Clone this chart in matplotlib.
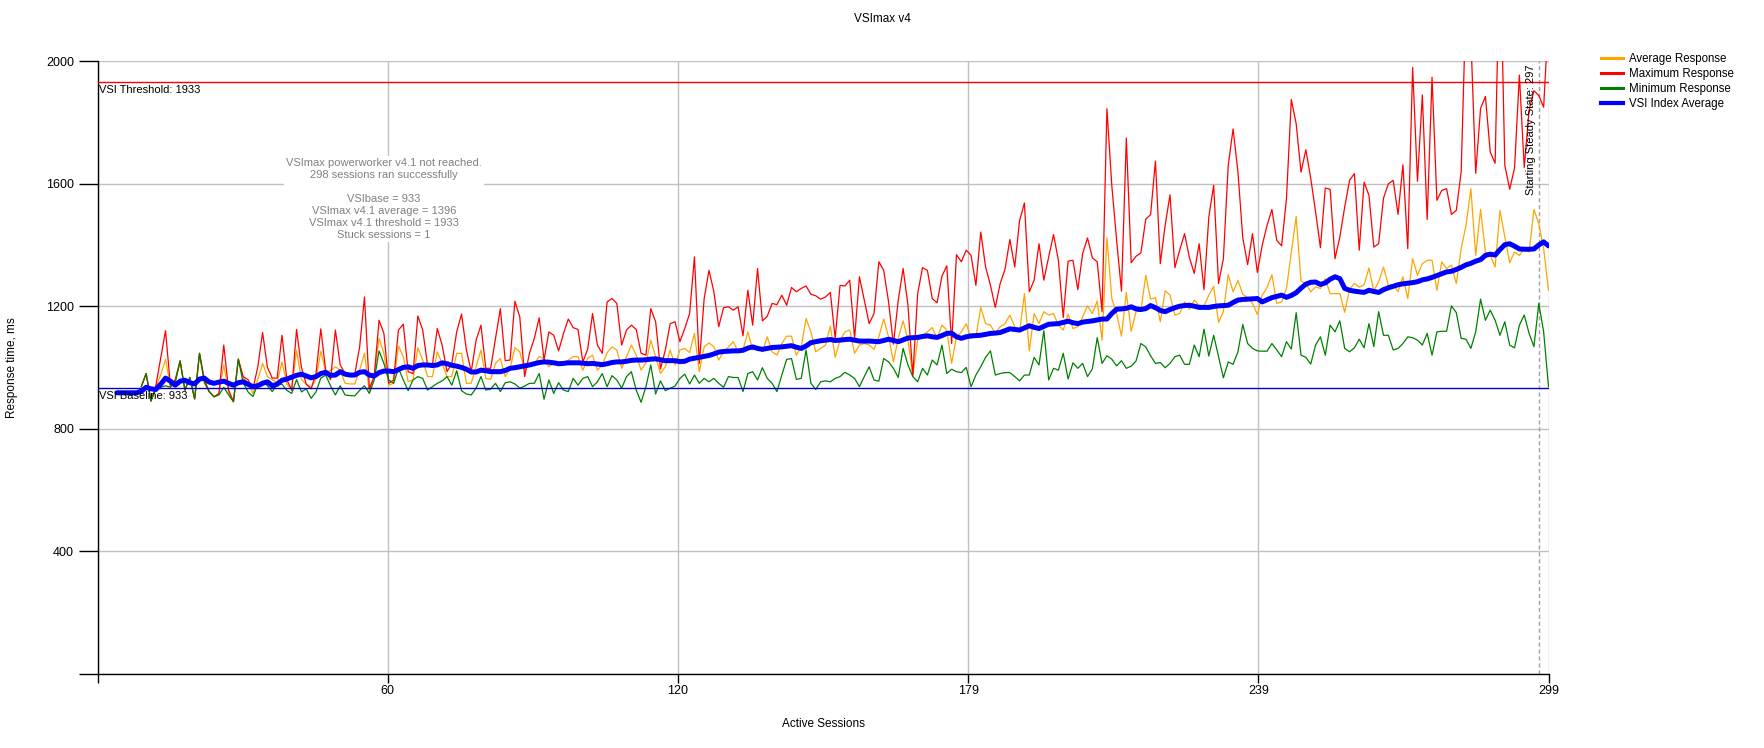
import numpy as np
import matplotlib
matplotlib.use("Agg")
import matplotlib.pyplot as plt
from matplotlib.lines import Line2D

plt.rcParams['font.family'] = ['Liberation Sans', 'DejaVu Sans']

# ---------------- data ----------------
first_session_resp = 9      # first session with min/avg/max values
first_session_vsi = 4       # first session with VSI index average

max_response = [
    937, 980, 890, 940, 1030, 1120, 940, 960, 1021, 926, 967, 897, 1046, 960, 921, 904, 915, 1073, 926, 888,
    1027, 970, 960, 930, 1000, 1114, 1000, 965, 965, 1105, 960, 925, 1124, 1000, 945, 930, 980, 1126, 990, 960, 1122,
    1008, 980, 978, 978, 1067, 1230, 931, 970, 1154, 1111, 948, 959, 1122, 1141, 986, 980, 1168, 1122, 1008, 1008,
    1127, 1073, 986, 1013, 1116, 1174, 1057, 986, 1089, 1138, 997, 997, 1095, 1192, 1022, 1024, 1216, 1165, 970, 1046,
    1095, 1162, 1024, 1116, 1105, 1054, 1110, 1158, 1130, 1124, 1018, 1060,
    1176, 1073, 1046, 1214, 1225, 1209, 1073, 1122, 1138, 1124, 1046, 1040, 1192, 1149, 995, 1057, 1143, 1149, 1084, 1127,
    1176, 1361, 1013, 1225, 1317, 1247, 1133, 1195, 1198, 1187, 1198, 1103, 1252, 1138, 1323, 1152, 1167, 1209, 1205, 1236,
    1203, 1261, 1247, 1258, 1266, 1239, 1234, 1223, 1230, 1245,
    1095, 1268, 1266, 1285, 1095, 1296, 1220, 1143, 1176, 1345, 1317, 1214, 1076, 1220, 1323, 1203, 972, 1241, 1326, 1317,
    1225, 1211, 1298, 1332, 1078, 1368, 1345, 1383, 1366, 1268, 1442, 1328, 1268, 1196, 1274, 1321, 1418, 1328, 1480, 1537,
    1247, 1285, 1404, 1285, 1361, 1434, 1350, 1163, 1347, 1350, 1254,
    1372, 1423, 1358, 1345, 1182, 1845, 1595, 1415, 1249, 1749, 1342, 1363, 1374, 1484, 1499, 1674, 1339, 1464, 1564, 1326,
    1383, 1437, 1359, 1307, 1404, 1254, 1491, 1595, 1274, 1355, 1660, 1779, 1638, 1423, 1336, 1437, 1310, 1399, 1464, 1516,
    1415, 1397, 1551, 1875, 1796, 1638, 1711, 1618, 1508, 1391, 1586,
    1582, 1355, 1426, 1524, 1611, 1633, 1383, 1605, 1562, 1393, 1404, 1553, 1600, 1611, 1500, 1662, 1388, 1980, 1608, 1890,
    1483, 1948, 1546, 1578, 1584, 1500, 1513, 1638, 2200, 2080, 1634, 1846, 1885, 1703, 1667, 2400, 1660, 1582, 1651, 1955,
    1653, 1840, 1904, 1888, 1850, 2150,
]

avg_response = [
    937, 980, 890, 935, 975, 1026, 937, 955, 1021, 926, 967, 897, 1046, 955, 921, 904, 912, 1008, 918, 888,
    1027, 965, 950, 915, 960, 1013, 970, 960, 950, 1018, 945, 930, 1056, 960, 945, 935, 960, 1053, 985, 990, 1002,
    991, 948, 946, 946, 991, 1046, 921, 975, 1095, 1046, 942, 948, 1070, 1035, 953, 959, 1064, 1024, 970, 970,
    1051, 1013, 970, 970, 1046, 1046, 948, 948, 1002, 1057, 964, 961, 1013, 1029, 970, 997, 1065, 1051, 991, 1008,
    1013, 1035, 1029, 1002, 1013, 1008, 1015, 1024, 1035, 1035, 991, 1030,
    1040, 991, 1008, 1048, 1067, 1057, 997, 1035, 1073, 1040, 991, 1015, 1089, 1035, 980, 1002, 1057, 1008, 1057, 1062,
    1048, 1111, 986, 1067, 1080, 1067, 1024, 1051, 1067, 1084, 1051, 1057, 1116, 1057, 1067, 1051, 1100, 1051, 1040, 1078,
    1102, 1102, 1040, 1067, 1160, 1116, 1051, 1062, 1073, 1135,
    1033, 1089, 1116, 1122, 1046, 1073, 1078, 1073, 1059, 1100, 1158, 1100, 1018, 1095, 1152, 1089, 975, 1089, 1105, 1116,
    1130, 1095, 1138, 1122, 1013, 1100, 1116, 1143, 1095, 1100, 1196, 1143, 1138, 1111, 1133, 1143, 1171, 1133, 1116, 1241,
    1054, 1176, 1143, 1182, 1171, 1176, 1138, 1122, 1174, 1127, 1133,
    1165, 1201, 1176, 1217, 1089, 1424, 1225, 1176, 1102, 1245, 1118, 1182, 1184, 1301, 1223, 1228, 1149, 1250, 1236, 1171,
    1176, 1214, 1190, 1220, 1203, 1201, 1236, 1265, 1147, 1182, 1303, 1247, 1284, 1239, 1228, 1209, 1173, 1236, 1261, 1303,
    1209, 1214, 1258, 1375, 1493, 1282, 1274, 1247, 1263, 1258, 1290,
    1241, 1241, 1241, 1180, 1255, 1275, 1262, 1270, 1325, 1250, 1280, 1328, 1268, 1270, 1247, 1296, 1225, 1355, 1301, 1339,
    1350, 1350, 1252, 1345, 1323, 1334, 1274, 1388, 1464, 1584, 1366, 1516, 1377, 1366, 1328, 1513, 1426, 1342, 1377, 1366,
    1388, 1377, 1516, 1470, 1388, 1252,
]

min_response = [
    937, 980, 890, 930, 935, 940, 935, 950, 1021, 926, 967, 897, 1046, 950, 921, 904, 910, 935, 910, 888,
    1027, 950, 920, 905, 945, 955, 940, 921, 945, 945, 925, 915, 960, 920, 930, 899, 920, 965, 975, 940, 910,
    940, 910, 908, 907, 925, 940, 915, 959, 1054, 1013, 959, 948, 997, 959, 924, 959, 970, 964, 926, 937,
    948, 956, 970, 942, 989, 924, 913, 910, 932, 970, 926, 929, 948, 921, 950, 953, 946, 932, 939, 948,
    948, 980, 896, 959, 915, 950, 926, 921, 964, 942, 964, 970,
    937, 953, 980, 937, 973, 959, 932, 970, 986, 926, 886, 937, 1008, 913, 956, 924, 932, 939, 964, 978,
    946, 975, 948, 964, 953, 964, 948, 935, 970, 967, 967, 921, 980, 986, 959, 999, 964, 948, 921, 975,
    1026, 1029, 961, 964, 1057, 948, 928, 953, 956, 953,
    964, 970, 984, 975, 964, 937, 970, 1002, 959, 955, 1029, 1018, 997, 967, 1062, 1008, 970, 953, 997, 975,
    1024, 1008, 1073, 980, 994, 986, 983, 1000, 937, 975, 1002, 1033, 1054, 975, 980, 983, 983, 970, 956, 975,
    975, 1033, 1008, 1120, 959, 997, 991, 1046, 962, 1015, 997,
    1013, 970, 995, 1097, 1013, 1038, 1027, 1005, 1022, 997, 1004, 1021, 1078, 1067, 1038, 1013, 1016, 999, 1013, 1035,
    1040, 1010, 1010, 1073, 1035, 1125, 1037, 1105, 1035, 966, 1018, 1010, 1051, 1140, 1078, 1062, 1054, 1053, 1053, 1078,
    1057, 1035, 1084, 1060, 1179, 1040, 1033, 1011, 1073, 1100, 1040,
    1138, 1116, 1152, 1062, 1051, 1064, 1092, 1064, 1143, 1068, 1182, 1105, 1105, 1057, 1062, 1078, 1100, 1097, 1089, 1073,
    1111, 1040, 1116, 1118, 1118, 1201, 1179, 1095, 1092, 1062, 1116, 1223, 1154, 1187, 1154, 1105, 1149, 1073, 1064, 1138,
    1171, 1111, 1068, 1209, 1116, 937,
]

vsi_index_avg = [
    917, 917, 917, 917, 917, 922, 935, 930, 928, 945, 965, 955, 942, 955, 958, 950, 946, 962, 965, 952,
    948, 952, 955, 948, 942, 950, 953, 945, 937, 940, 948, 953, 940, 945, 958, 962, 968, 974, 978, 972,
    966, 970, 980, 984, 974, 975,
    986, 978, 975, 975, 984, 986, 975, 972, 983, 988, 988, 986, 993, 1000, 1002, 997, 1006, 1008, 1008, 1006,
    1008, 1015, 1012, 1007, 1004, 1000, 994, 985, 985, 991, 989, 986, 986, 986, 990, 997, 999, 1002, 1005, 1008,
    1012, 1016, 1018, 1017, 1015, 1012, 1013, 1015, 1015, 1015, 1014, 1012,
    1013, 1011, 1009, 1012, 1016, 1018, 1018, 1020, 1023, 1024, 1024, 1025, 1027, 1028, 1025, 1022, 1022, 1022, 1019, 1020,
    1027, 1030, 1033, 1036, 1039, 1044, 1050, 1052, 1053, 1054, 1054, 1056, 1063, 1067, 1062, 1059, 1062, 1065, 1066, 1067,
    1069, 1071, 1066, 1062, 1070, 1081, 1084, 1087, 1089, 1091,
    1088, 1089, 1091, 1092, 1089, 1086, 1086, 1086, 1085, 1084, 1088, 1092, 1088, 1084, 1090, 1096, 1097, 1098, 1101, 1103,
    1100, 1098, 1104, 1111, 1112, 1100, 1095, 1100, 1103, 1104, 1105, 1108, 1111, 1112, 1114, 1120, 1126, 1124, 1122, 1129,
    1136, 1131, 1127, 1134, 1141, 1142, 1143, 1147, 1151, 1146, 1143,
    1148, 1150, 1152, 1155, 1158, 1158, 1176, 1190, 1191, 1193, 1198, 1191, 1189, 1192, 1202, 1195, 1186, 1182, 1189, 1195,
    1200, 1202, 1203, 1200, 1196, 1196, 1196, 1199, 1201, 1202, 1203, 1212, 1220, 1222, 1223, 1224, 1225, 1214, 1221, 1228,
    1232, 1236, 1229, 1235, 1244, 1259, 1272, 1278, 1279, 1271, 1276,
    1288, 1296, 1290, 1258, 1252, 1249, 1247, 1245, 1252, 1248, 1245, 1254, 1260, 1265, 1270, 1273, 1275, 1277, 1280, 1286,
    1289, 1294, 1300, 1306, 1312, 1314, 1320, 1327, 1335, 1340, 1347, 1352, 1366, 1370, 1367, 1385, 1401, 1404, 1396, 1387,
    1386, 1386, 1387, 1400, 1410, 1397,
]

vsi_baseline = 933
vsi_threshold = 1933
steady_state_session = 297
x_max = 299
x_tick_values = [0, 59.8, 119.6, 179.4, 239.2, 299]
x_tick_labels = ["", "60", "120", "179", "239", "299"]
y_tick_values = [0, 400, 800, 1200, 1600, 2000]
y_tick_labels = ["", "400", "800", "1200", "1600", "2000"]
series_names = ["Average Response", "Maximum Response", "Minimum Response", "VSI Index Average"]
series_colors = ["#FFA500", "#FF0000", "#008000", "#0000FF"]
summary_lines = [
    "VSImax powerworker v4.1 not reached.",
    "298 sessions ran successfully",
    "",
    "VSIbase = 933",
    "VSImax v4.1 average = 1396",
    "VSImax v4.1 threshold = 1933",
    "Stuck sessions = 1",
]

# ---------------- figure ----------------
W, H = 1764, 748
fig = plt.figure(figsize=(W / 100, H / 100), dpi=100)
ax = fig.add_axes([97.6 / W, 1 - 673.5 / H, (1548.5 - 97.6) / W, (673.5 - 61.3) / H])

x_resp = np.arange(first_session_resp, first_session_resp + len(max_response))
x_vsi = np.arange(first_session_vsi, first_session_vsi + len(vsi_index_avg))

ax.plot(x_resp, avg_response, color=series_colors[0], lw=0.9, zorder=3)
ax.plot(x_resp, max_response, color=series_colors[1], lw=0.9, zorder=3)
ax.plot(x_resp, min_response, color=series_colors[2], lw=0.9, zorder=3)
ax.plot(x_vsi, vsi_index_avg, color=series_colors[3], lw=3.6, zorder=5,
        solid_joinstyle='round', solid_capstyle='round')

ax.axhline(vsi_threshold, color="#FF0000", lw=1, zorder=4)
ax.axhline(vsi_baseline, color="#0000CC", lw=1, zorder=4)
ax.axvline(steady_state_session, color="#A0A0A0", lw=1, ls=(0, (3, 2)), zorder=2)

ax.set_xlim(0, x_max)
ax.set_ylim(0, 2000)
ax.set_xticks(x_tick_values)
ax.set_xticklabels(x_tick_labels)
ax.set_yticks(y_tick_values)
ax.set_yticklabels(y_tick_labels)
ax.tick_params(axis='y', length=14, width=1, pad=3, labelsize=9, colors='black')
ax.tick_params(axis='x', length=6.5, width=1, pad=2, labelsize=9, colors='black')
ax.grid(True, color="#C0C0C0", lw=1)
ax.set_axisbelow(True)
for side in ("top", "right"):
    ax.spines[side].set_visible(False)
for side in ("left", "bottom"):
    ax.spines[side].set_color("black")
    ax.spines[side].set_linewidth(1)

ax.annotate(f"VSI Threshold: {vsi_threshold}", xy=(0, vsi_threshold), xytext=(1, -2),
            textcoords="offset points", ha="left", va="top", fontsize=8, color="black", zorder=6)
ax.annotate(f"VSI Baseline: {vsi_baseline}", xy=(0, vsi_baseline), xytext=(1, -2),
            textcoords="offset points", ha="left", va="top", fontsize=8, color="black", zorder=6)
ax.annotate(f"Starting Steady State: {steady_state_session}", xy=(steady_state_session, 2000),
            xytext=(-2, -2), textcoords="offset points", ha="right", va="top",
            rotation=90, fontsize=8, color="black", zorder=6)

ax.text(59, 1550, "\n".join(summary_lines), ha="center", va="center", fontsize=8.0,
        color="#808080", linespacing=1.24, zorder=7,
        bbox=dict(facecolor="white", edgecolor="none", pad=1.5))

fig.text(882 / W, 1 - 19 / H, "VSImax v4", ha="center", va="center", fontsize=8.5)
ax.set_xlabel("Active Sessions", fontsize=8.5)
ax.xaxis.set_label_coords(0.5, -(718 - 673.5) / (673.5 - 61.3))
ax.set_ylabel("Response time, ms", fontsize=8.5)
ax.yaxis.set_label_coords(-(97.6 - 18) / (1548.5 - 97.6), 0.5)

handles = [Line2D([0], [0], color=c, lw=(3 if i == 3 else 2.2)) for i, c in enumerate(series_colors)]
fig.legend(handles, series_names, loc="upper left", bbox_to_anchor=(1601 / W, 1 - 53 / H),
           frameon=False, fontsize=8.3, handlelength=1.95, handletextpad=0.5,
           labelspacing=0.25, borderpad=0, borderaxespad=0)

fig.savefig("out.png", dpi=100, facecolor="white")
